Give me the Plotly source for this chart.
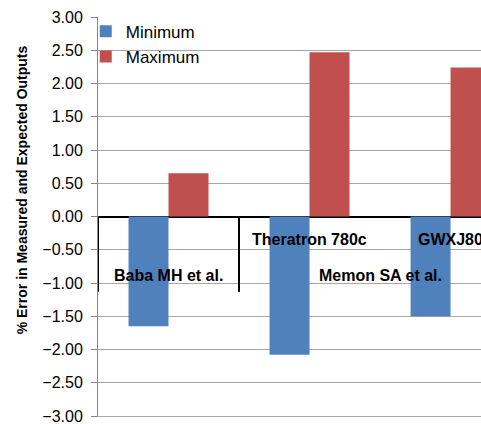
import plotly.graph_objects as go

# Sub-category labels (inner level) and their groups (outer level)
sub_labels = ["", "Theratron 780c", "GWXJ80"]
group_labels = ["Baba MH et al.", "Memon SA et al."]
group_spans = [(0, 0), (1, 2)]  # first/last sub-category index of each group

minimum = [-1.65, -2.08, -1.50]
maximum = [0.65, 2.47, 2.24]

y_ticks = [-3.0, -2.5, -2.0, -1.5, -1.0, -0.5, 0.0, 0.5, 1.0, 1.5, 2.0, 2.5, 3.0]

BLUE = "#4F81BD"
RED = "#C0504D"
GRID = "#a6a6a6"
FONT = "Liberation Sans, Arial, sans-serif"

x = list(range(len(sub_labels)))

fig = go.Figure()
fig.add_trace(go.Bar(x=x, y=minimum, name="Minimum", marker=dict(color=BLUE, line=dict(width=0))))
fig.add_trace(go.Bar(x=x, y=maximum, name="Maximum", marker=dict(color=RED, line=dict(width=0))))

# Category labels sitting just under the zero line
annotations = []
for i, lab in enumerate(sub_labels):
    if lab:
        annotations.append(dict(x=i, y=-0.35, xref="x", yref="y", text=f"<b>{lab}</b>", showarrow=False,
                                font=dict(family=FONT, size=16, color="black"),
                                xanchor="center", yanchor="middle"))
for lab, (a, b) in zip(group_labels, group_spans):
    annotations.append(dict(x=(a + b) / 2, y=-0.89, xref="x", yref="y", text=f"<b>{lab}</b>",
                            showarrow=False, font=dict(family=FONT, size=16, color="black"),
                            xanchor="center", yanchor="middle"))

annotations.append(dict(x=-0.198, y=0.566, xref="paper", yref="paper",
                        text="<b>% Error in Measured and Expected Outputs</b>",
                        textangle=-90, showarrow=False,
                        font=dict(family=FONT, size=14, color="black"),
                        xanchor="center", yanchor="middle"))

# Group separators below the axis line
shapes = []
for a, b in group_spans:
    for edge in (a - 0.5, b + 0.5):
        shapes.append(dict(type="line", xref="x", yref="y", x0=edge, x1=edge, y0=0, y1=-1.13,
                           line=dict(color="black", width=2)))

fig.update_layout(
    width=481, height=424,
    margin=dict(l=98, r=0, t=17, b=8, pad=0),
    plot_bgcolor="white", paper_bgcolor="white",
    barmode="group", bargap=0.433, bargroupgap=0,
    font=dict(family=FONT, size=16, color="black"),
    showlegend=True,
    legend=dict(x=-0.032, y=1.008, xanchor="left", yanchor="top",
                bgcolor="rgba(0,0,0,0)", font=dict(family=FONT, size=17, color="black"),
                traceorder="normal"),
    annotations=annotations,
    shapes=shapes,
    xaxis=dict(range=[-0.5, 2.216], showticklabels=False, showgrid=False, zeroline=False,
               showline=True, linecolor=GRID, linewidth=1, ticks=""),
    yaxis=dict(range=[-3, 3], tickvals=y_ticks, tickformat=".2f",
               showgrid=True, gridcolor=GRID, gridwidth=1,
               zeroline=True, zerolinecolor="black", zerolinewidth=2,
               showline=True, linecolor="#868686", linewidth=1,
               ticks="outside", ticklen=6, tickcolor="#868686",
               ticklabelstandoff=5, ticklabeloverflow="allow",
               tickfont=dict(family=FONT, size=16, color="black")),
)

fig.write_html("out.html")
